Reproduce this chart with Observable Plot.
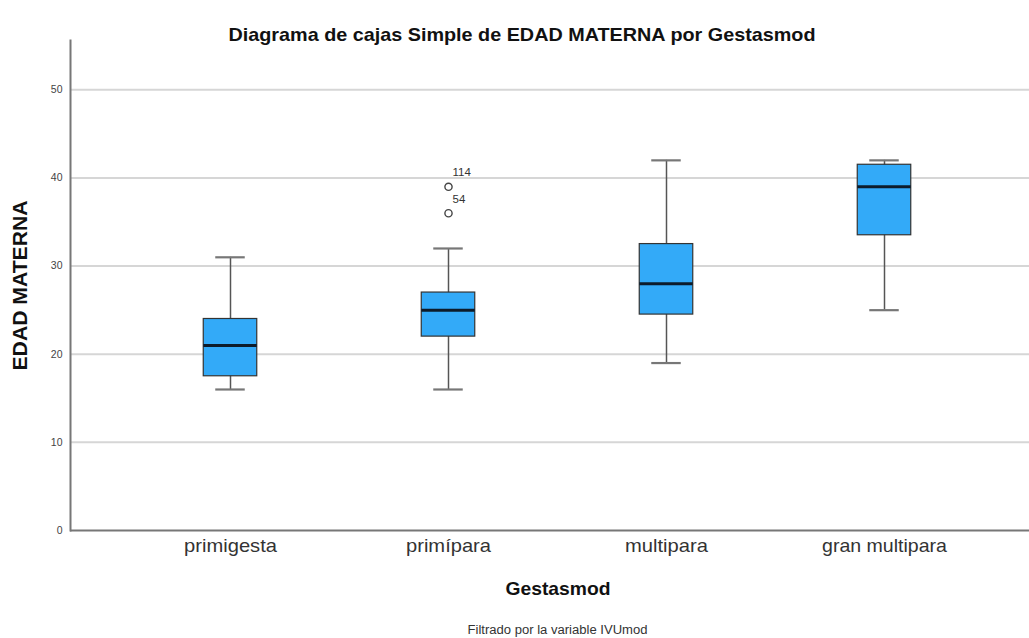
<!DOCTYPE html>
<html>
<head>
<meta charset="utf-8">
<script src="https://cdn.jsdelivr.net/npm/d3@7"></script>
<script src="https://cdn.jsdelivr.net/npm/@observablehq/plot@0.6"></script>
<style>
  html, body { margin: 0; padding: 0; background: #fff; }
  #chart svg { display: block; }
</style>
</head>
<body>
<div id="chart"></div>
<script>
const categories = ["primigesta", "primípara", "multipara", "gran multipara"];
const whiskerLow = [16, 16, 19, 25];
const q1 = [17.5, 22, 24.5, 33.5];
const median = [21, 25, 28, 39];
const q3 = [24, 27, 32.5, 41.5];
const whiskerHigh = [31, 32, 42, 42];
const outlierGroup = ["primípara", "primípara"];
const outlierValue = [39, 36];
const outlierLabel = ["114", "54"];
const yTicks = [0, 10, 20, 30, 40, 50];
const gridTicks = [10, 20, 30, 40, 50];
const titleText = "Diagrama de cajas Simple de EDAD MATERNA por Gestasmod";
const xLabel = "Gestasmod";
const yLabel = "EDAD MATERNA";
const captionText = "Filtrado por la variable IVUmod";

const boxes = categories.map((c, i) => ({
  cat: c, lo: whiskerLow[i], q1: q1[i], med: median[i], q3: q3[i], hi: whiskerHigh[i]
}));
const outliers = outlierValue.map((v, i) => ({ cat: outlierGroup[i], v, label: outlierLabel[i] }));

const font = "'Liberation Sans', Arial, sans-serif";
const W = 1029, H = 638;
const boxInset = (218.5 - 54) / 2;
const capInset = (218.5 - 30) / 2;

const chart = Plot.plot({
  width: W,
  height: H,
  marginLeft: 70,
  marginRight: 0,
  marginTop: 40,
  marginBottom: 108,
  style: { fontFamily: font, background: "#fff" },
  x: { domain: categories, range: [120, 994], padding: 0, axis: null },
  y: { domain: [0, 55.6], axis: null },
  marks: [
    Plot.ruleY(gridTicks, { stroke: "#d6d6d6", strokeWidth: 2 }),
    // whiskers
    Plot.ruleX(boxes, { x: "cat", y1: "lo", y2: "hi", stroke: "#555", strokeWidth: 1.5 }),
    Plot.tickY(boxes, { x: "cat", y: "lo", stroke: "#777", strokeWidth: 2.2, insetLeft: capInset, insetRight: capInset }),
    Plot.tickY(boxes, { x: "cat", y: "hi", stroke: "#777", strokeWidth: 2.2, insetLeft: capInset, insetRight: capInset }),
    // boxes
    Plot.barY(boxes, { x: "cat", y1: "q1", y2: "q3", fill: "#33aaf8", stroke: "#333", strokeWidth: 1.2, insetLeft: boxInset, insetRight: boxInset }),
    Plot.tickY(boxes, { x: "cat", y: "med", stroke: "#0d1b2a", strokeWidth: 3, insetLeft: boxInset, insetRight: boxInset }),
    // outliers
    Plot.dot(outliers, { x: "cat", y: "v", r: 3.6, stroke: "#444", strokeWidth: 1.4, fill: "none" }),
    Plot.text(outliers, { x: "cat", y: "v", text: "label", dx: 4, dy: -14, textAnchor: "start", fontSize: 11.5, fill: "#333" }),
    // axes
    Plot.ruleY([0], { stroke: "#777", strokeWidth: 2 }),
    Plot.frame({ anchor: "left", stroke: "#777", strokeWidth: 2 }),
    Plot.text(yTicks, { y: d => d, text: d => String(d), frameAnchor: "left", dx: -8, textAnchor: "end", fontSize: 10.5, fill: "#444" }),
    Plot.text(categories, { x: d => d, text: d => d, frameAnchor: "bottom", dy: 21, fontSize: 19, fill: "#333" }),
    // titles
    Plot.text([titleText], { frameAnchor: "top-left", dx: 521.5 - 70, dy: -13, textAnchor: "middle", fontSize: 19, fontWeight: "bold", fill: "#111" }),
    Plot.text([xLabel], { frameAnchor: "bottom-left", dx: 557.5 - 70, dy: 64, textAnchor: "middle", fontSize: 19, fontWeight: "bold", fill: "#111" }),
    Plot.text([captionText], { frameAnchor: "bottom-left", dx: 557 - 70, dy: 103, textAnchor: "middle", fontSize: 12.5, fill: "#333" }),
    Plot.text([yLabel], { frameAnchor: "left", dx: -50, rotate: -90, textAnchor: "middle", fontSize: 20, fontWeight: "bold", fill: "#111" })
  ]
});

// match the reference's text widths
const lengths = {
  [titleText]: 587,
  [xLabel]: 105,
  [captionText]: 180,
  [yLabel]: 170,
  "primigesta": 93,
  "primípara": 85,
  "multipara": 83,
  "gran multipara": 125
};
d3.select(chart).selectAll("text").each(function () {
  const t = this.textContent;
  if (lengths[t] !== undefined) {
    this.setAttribute("textLength", lengths[t]);
    this.setAttribute("lengthAdjust", "spacingAndGlyphs");
  }
});
document.getElementById("chart").appendChild(chart);
</script>
</body>
</html>
